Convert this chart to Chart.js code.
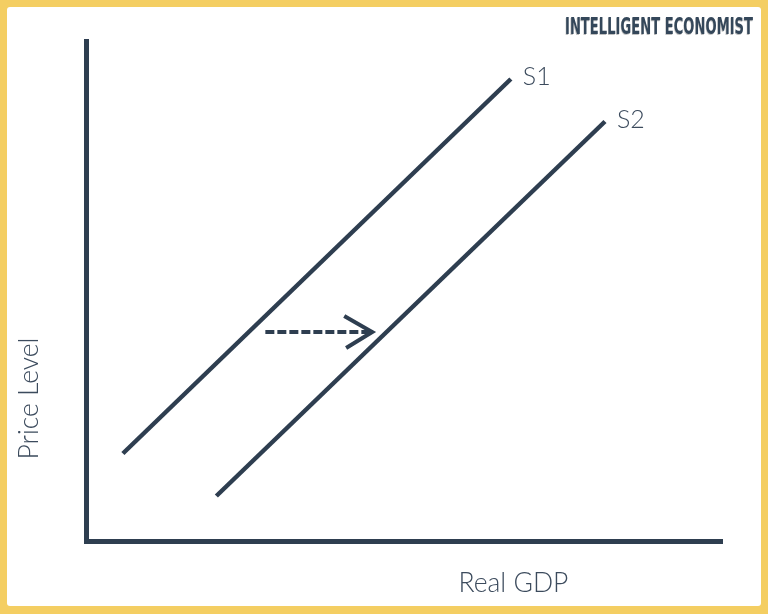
<!DOCTYPE html>
<html>
<head>
<meta charset="utf-8">
<script src="https://cdn.jsdelivr.net/npm/chart.js@4.4.1/dist/chart.umd.min.js"></script>
<style>
  html, body { margin: 0; padding: 0; }
  body { width: 768px; height: 614px; background: #f4ce62; position: relative; overflow: hidden; }
  .paper { position: absolute; left: 7px; top: 7px; right: 7px; bottom: 8px; background: #fff; border-radius: 3px; }
  #wrap { position: absolute; left: 0; top: 0; width: 768px; height: 614px; }
</style>
</head>
<body>
<div class="paper"></div>
<div id="wrap"><canvas id="shiftChart" width="768" height="614"></canvas></div>
<script>
// supply curves (axis units 0..10)
const curveNames = ['S1', 'S2'];
const s1X = [0.58, 6.68];
const s1Y = [1.75, 9.24];
const s2X = [2.05, 8.16];
const s2Y = [0.90, 8.39];

// the dashed shift arrow
const shiftX = [2.82, 4.45];
const shiftY = [4.18, 4.18];
const headX = [4.06, 4.50, 4.09];
const headY = [4.50, 4.18, 3.86];

const xTitle = 'Real GDP';
const yTitle = 'Price Level';
const brand = 'INTELLIGENT ECONOMIST';

const ink = '#2e3e50';
const textInk = '#3c4b5d';

function toPoints(xs, ys) {
  return xs.map((x, i) => ({ x: x, y: ys[i] }));
}

// labels, axis titles and the brand mark
const labelPlugin = {
  id: 'labels',
  afterDatasetsDraw(chart) {
    const ctx = chart.ctx;
    const xs = chart.scales.x;
    const ys = chart.scales.y;
    const area = chart.chartArea;
    ctx.save();
    ctx.fillStyle = textInk;
    ctx.font = '300 25px Lato, "Open Sans", sans-serif';
    ctx.textBaseline = 'middle';
    ctx.textAlign = 'left';

    [[s1X, s1Y], [s2X, s2Y]].forEach((c, i) => {
      const last = c[0].length - 1;
      const px = xs.getPixelForValue(c[0][last]);
      const py = ys.getPixelForValue(c[1][last]);
      ctx.fillText(curveNames[i], px + 12, py - 2);
    });

    ctx.font = '300 26.5px Lato, "Open Sans", sans-serif';
    ctx.textAlign = 'center';
    ctx.textBaseline = 'alphabetic';
    ctx.fillText(xTitle, area.left + (area.right - area.left) * 0.672, area.bottom + 51);

    ctx.save();
    ctx.translate(area.left - 48, area.top + (area.bottom - area.top) * 0.715);
    ctx.rotate(-Math.PI / 2);
    ctx.fillText(yTitle, 0, 0);
    ctx.restore();

    // brand, squeezed to the condensed look
    ctx.font = 'bold 23px "DejaVu Sans Condensed", "Liberation Sans Narrow", sans-serif';
    const w = ctx.measureText(brand).width;
    const target = 188;
    ctx.save();
    ctx.translate(753, 34);
    ctx.scale(target / w, 1);
    ctx.textAlign = 'right';
    ctx.fillStyle = 'rgba(0,0,0,0.25)';
    ctx.fillText(brand, -0.8, 0.8);
    ctx.fillStyle = '#34475a';
    ctx.fillText(brand, 0, 0);
    ctx.restore();

    ctx.restore();
  }
};

const ctx = document.getElementById('shiftChart').getContext('2d');
new Chart(ctx, {
  type: 'scatter',
  data: {
    datasets: [
      { data: toPoints(s1X, s1Y), showLine: true, borderColor: ink, borderWidth: 4.5, pointRadius: 0, borderCapStyle: 'butt' },
      { data: toPoints(s2X, s2Y), showLine: true, borderColor: ink, borderWidth: 4.5, pointRadius: 0, borderCapStyle: 'butt' },
      { data: toPoints(shiftX, shiftY), showLine: true, borderColor: ink, borderWidth: 4, borderDash: [9, 3], pointRadius: 0 },
      { data: toPoints(headX, headY), showLine: true, borderColor: ink, borderWidth: 4, pointRadius: 0, borderJoinStyle: 'miter' }
    ]
  },
  options: {
    responsive: false,
    animation: false,
    devicePixelRatio: 1,
    layout: { padding: { left: 78, right: 46, top: 41, bottom: 65 } },
    plugins: { legend: { display: false }, tooltip: { enabled: false } },
    scales: {
      x: {
        type: 'linear', min: 0, max: 10,
        grid: { display: false },
        ticks: { display: false },
        border: { display: true, color: ink, width: 5 }
      },
      y: {
        type: 'linear', min: 0, max: 10,
        grid: { display: false },
        ticks: { display: false },
        border: { display: true, color: ink, width: 5 }
      }
    }
  },
  plugins: [labelPlugin]
});
</script>
</body>
</html>
